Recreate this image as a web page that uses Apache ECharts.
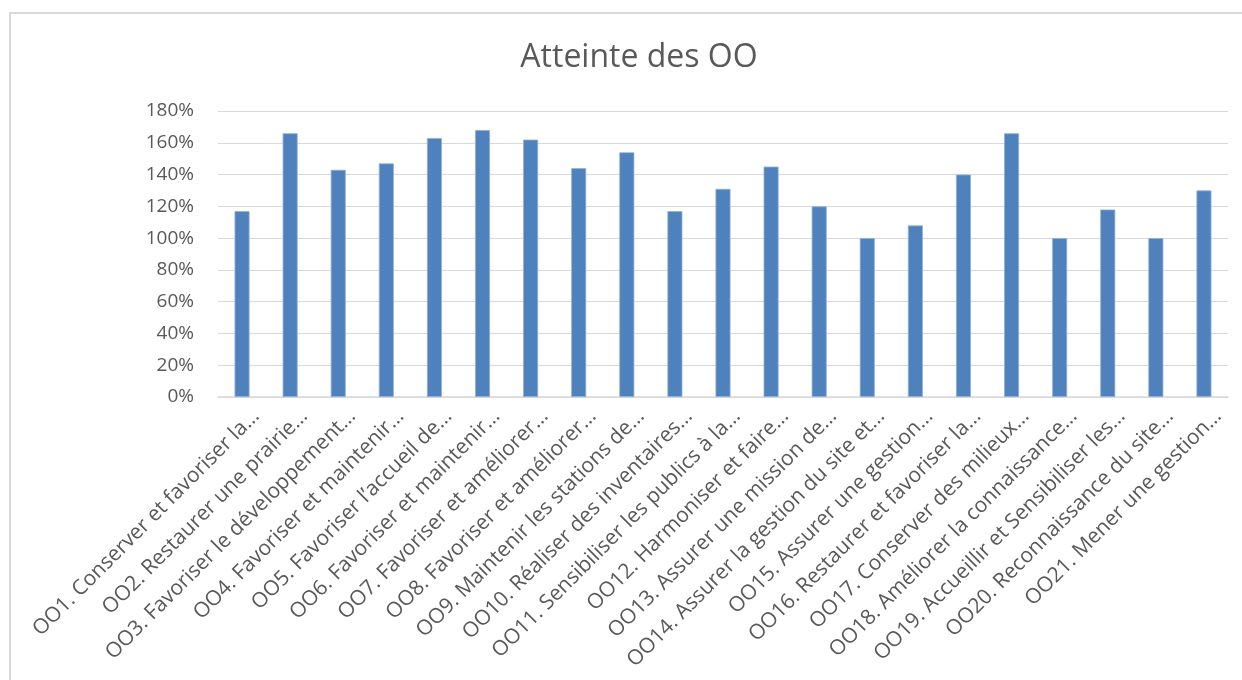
<!DOCTYPE html>
<html>
<head>
<meta charset="utf-8">
<script src="https://cdn.jsdelivr.net/npm/echarts@6/dist/echarts.min.js"></script>
<style>
html,body{margin:0;padding:0;background:#fff;}
#chart{width:1242px;height:680px;}
</style>
</head>
<body>
<div id="chart"></div>
<script>
const title = "Atteinte des OO";
const categories = [
  "OO1. Conserver et favoriser la…",
  "OO2. Restaurer une prairie…",
  "OO3. Favoriser le développement…",
  "OO4. Favoriser et maintenir…",
  "OO5. Favoriser l’accueil de…",
  "OO6. Favoriser et maintenir…",
  "OO7. Favoriser et améliorer…",
  "OO8. Favoriser et améliorer…",
  "OO9. Maintenir les stations de…",
  "OO10. Réaliser des inventaires…",
  "OO11. Sensibiliser les publics à la…",
  "OO12. Harmoniser et faire…",
  "OO13. Assurer une mission de…",
  "OO14. Assurer la gestion du site et…",
  "OO15. Assurer une gestion…",
  "OO16. Restaurer et favoriser la…",
  "OO17. Conserver des milieux…",
  "OO18. Améliorer la connaissance…",
  "OO19. Accueillir et Sensibiliser les…",
  "OO20. Reconnaissance du site…",
  "OO21. Mener une gestion…"
];
const values = [117, 166, 143, 147, 163, 168, 162, 144, 154, 117, 131, 145, 120, 100, 108, 140, 166, 100, 118, 100, 130];
const yTicks = { min: 0, max: 180, interval: 20 };

const chart = echarts.init(document.getElementById('chart'));
chart.setOption({
  animation: false,
  backgroundColor: '#ffffff',
  title: {
    text: title,
    left: 634,
    top: 37,
    textAlign: 'center',
    textStyle: { fontFamily: 'Open Sans', fontSize: 32, fontWeight: 'normal', color: '#595959' }
  },
  graphic: [{
    type: 'rect',
    shape: { x: 10, y: 13, width: 1300, height: 800 },
    style: { fill: 'none', stroke: '#d9d9d9', lineWidth: 2 },
    silent: true
  }],
  grid: { left: 218, right: 14, top: 111, bottom: 283 },
  xAxis: {
    type: 'category',
    data: categories,
    axisLine: { show: true, lineStyle: { color: '#d9d9d9', width: 1.5 } },
    axisTick: { show: false },
    axisLabel: {
      interval: 0,
      rotate: 45,
      margin: 30,
      padding: [0, -20, 0, 0],
      fontFamily: 'Open Sans',
      fontSize: 21,
      color: '#595959'
    }
  },
  yAxis: {
    type: 'value',
    min: yTicks.min,
    max: yTicks.max,
    interval: yTicks.interval,
    axisLine: { show: false },
    axisTick: { show: false },
    splitLine: { lineStyle: { color: '#d9d9d9', width: 1.2 } },
    axisLabel: {
      formatter: '{value}%',
      margin: 24,
      fontFamily: 'Open Sans',
      fontSize: 19,
      color: '#595959'
    }
  },
  series: [{
    type: 'bar',
    data: values,
    barWidth: 15,
    itemStyle: { color: '#4f81bd', borderColor: '#8fb0d9', borderWidth: 0.8 }
  }]
});
</script>
</body>
</html>
